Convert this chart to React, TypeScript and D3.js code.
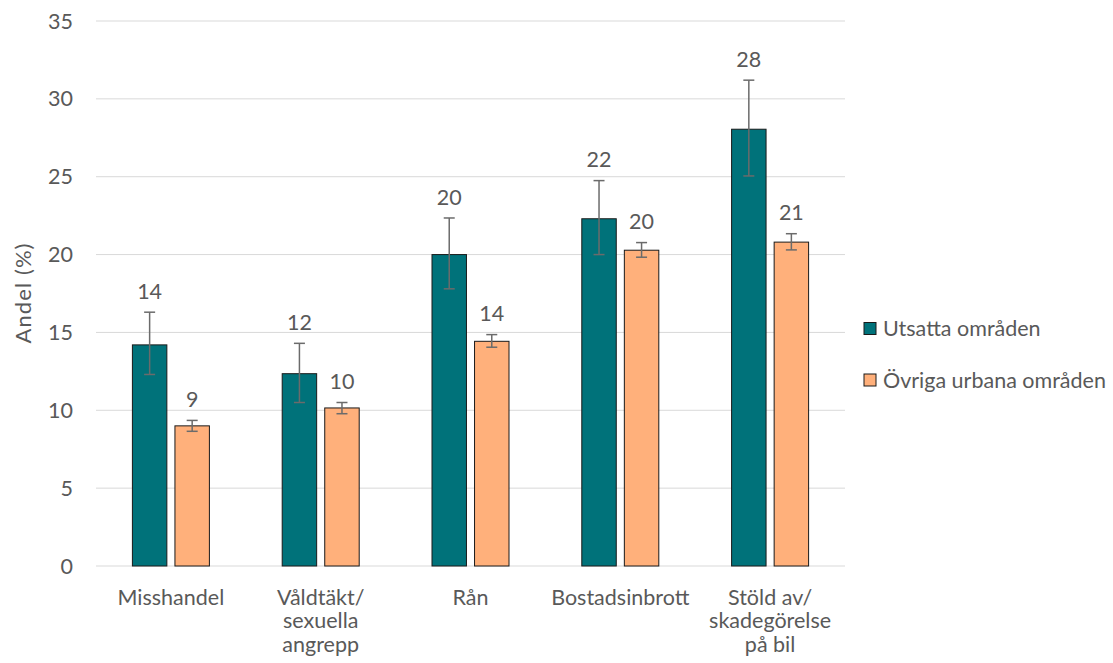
import React from "react";
import * as d3 from "d3";

const categories = ["Misshandel", "Våldtäkt/ sexuella angrepp", "Rån", "Bostadsinbrott", "Stöld av/ skadegörelse på bil"];
const categoryLines = [["Misshandel"], ["Våldtäkt/", "sexuella", "angrepp"], ["Rån"], ["Bostadsinbrott"], ["Stöld av/", "skadegörelse", "på bil"]];
const seriesNames = ["Utsatta områden", "Övriga urbana områden"];
const seriesColors = ["#00727A", "#FFB07B"];

const utsattaValues = [14.2, 12.35, 20.0, 22.3, 28.05];
const utsattaLow = [12.3, 10.5, 17.8, 20.0, 25.05];
const utsattaHigh = [16.3, 14.3, 22.35, 24.75, 31.2];
const utsattaLabels = ["14", "12", "20", "22", "28"];

const ovrigaValues = [9.0, 10.15, 14.43, 20.28, 20.8];
const ovrigaLow = [8.65, 9.78, 14.05, 19.83, 20.3];
const ovrigaHigh = [9.35, 10.5, 14.86, 20.77, 21.34];
const ovrigaLabels = ["9", "10", "14", "20", "21"];

const yTicks = [0, 5, 10, 15, 20, 25, 30, 35];

const W = 1113;
const H = 663;
const FONT = "Lato, 'Open Sans', sans-serif";
const FS = 21.5;
const TEXT = "#595959";

export default function App() {
  const plotLeft = 96;
  const plotRight = 845;
  const y = d3.scaleLinear().domain([0, 35]).range([566, 21]);
  const x0 = d3.scaleBand<string>().domain(categories).range([plotLeft, plotRight]).padding(0);
  const groupW = 77;
  const x1 = d3
    .scaleBand<string>()
    .domain(seriesNames)
    .range([x0.bandwidth() / 2 - groupW / 2, x0.bandwidth() / 2 + groupW / 2])
    .paddingInner(0.19)
    .paddingOuter(0);

  const series = [
    { name: seriesNames[0], color: seriesColors[0], values: utsattaValues, low: utsattaLow, high: utsattaHigh, labels: utsattaLabels },
    { name: seriesNames[1], color: seriesColors[1], values: ovrigaValues, low: ovrigaLow, high: ovrigaHigh, labels: ovrigaLabels },
  ];

  return (
    <svg width={W} height={H} style={{ position: "absolute", left: 0, top: 0, background: "#fff" }} fontFamily={FONT}>
      {/* gridlines + y ticks */}
      {yTicks.map((t) => (
        <g key={t}>
          <line x1={plotLeft} x2={plotRight} y1={y(t)} y2={y(t)} stroke="#D9D9D9" strokeWidth={1} />
          <text x={73} y={y(t)} dy="0.35em" textAnchor="end" fontSize={FS} fill={TEXT}>
            {t}
          </text>
        </g>
      ))}
      <text
        transform={`translate(23,${(y(0) + y(35)) / 2}) rotate(-90)`}
        dy="0.35em"
        textAnchor="middle"
        fontSize={22}
        textLength={100}
        lengthAdjust="spacing"
        fill={TEXT}
      >
        Andel (%)
      </text>

      {/* bars, error bars, value labels */}
      {series.map((s) =>
        categories.map((c, i) => {
          const bx = (x0(c) ?? 0) + (x1(s.name) ?? 0);
          const bw = x1.bandwidth();
          const cx = bx + bw / 2;
          return (
            <g key={s.name + c}>
              <rect x={bx} y={y(s.values[i])} width={bw} height={y(0) - y(s.values[i])} fill={s.color} stroke="#1a1a1a" strokeWidth={1} />
              <line x1={cx} x2={cx} y1={y(s.high[i])} y2={y(s.low[i])} stroke="#6b6b6b" strokeWidth={1.5} />
              <line x1={cx - 5.5} x2={cx + 5.5} y1={y(s.high[i])} y2={y(s.high[i])} stroke="#6b6b6b" strokeWidth={1.5} />
              <line x1={cx - 5.5} x2={cx + 5.5} y1={y(s.low[i])} y2={y(s.low[i])} stroke="#6b6b6b" strokeWidth={1.5} />
              <text x={cx} y={y(s.high[i]) - 21} dy="0.35em" textAnchor="middle" fontSize={FS} fill={TEXT}>
                {s.labels[i]}
              </text>
            </g>
          );
        })
      )}

      {/* category labels */}
      {categories.map((c, i) => (
        <text key={c} x={(x0(c) ?? 0) + x0.bandwidth() / 2} y={597} textAnchor="middle" fontSize={FS} fill={TEXT}>
          {categoryLines[i].map((ln, j) => (
            <tspan key={j} x={(x0(c) ?? 0) + x0.bandwidth() / 2} dy={j === 0 ? "0.35em" : 23.5}>
              {ln}
            </tspan>
          ))}
        </text>
      ))}

      {/* legend */}
      {series.map((s, i) => (
        <g key={s.name} transform={`translate(864,${328.5 + i * 51.5})`}>
          <rect x={0} y={-6} width={12} height={12} fill={s.color} stroke="#1a1a1a" strokeWidth={1} />
          <text x={19} y={0} dy="0.35em" fontSize={FS} fill={TEXT}>
            {s.name}
          </text>
        </g>
      ))}
    </svg>
  );
}
